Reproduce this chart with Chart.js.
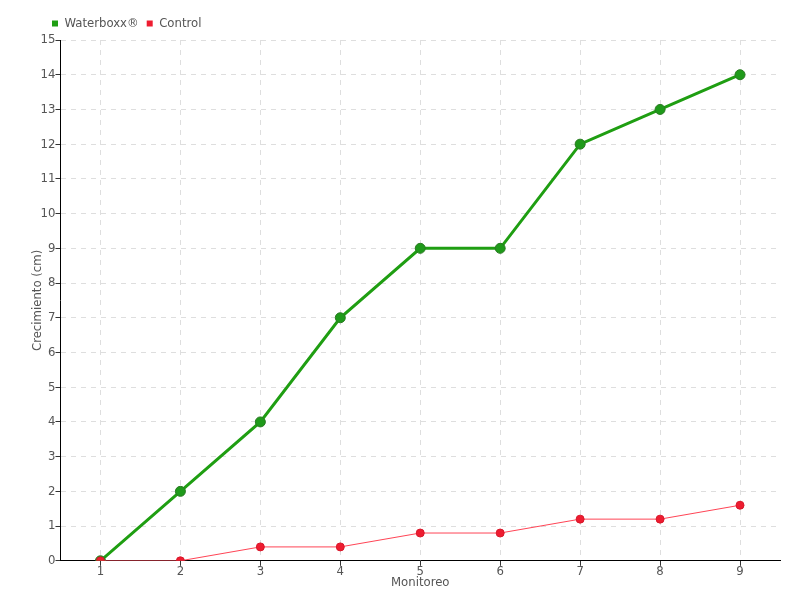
<!DOCTYPE html>
<html>
<head>
<meta charset="utf-8">
<script src="https://cdn.jsdelivr.net/npm/chart.js@4"></script>
<style>
  html, body { margin: 0; padding: 0; background: #fff; }
  #wrap { width: 800px; height: 600px; }
</style>
</head>
<body>
<div id="wrap"><canvas id="chart" width="800" height="600"></canvas></div>
<script>
// Crecimiento por monitoreo
const monitoreos = ['1','2','3','4','5','6','7','8','9'];
const waterboxx  = [0, 2, 4, 7, 9, 9, 12, 13, 14];
const control    = [0, 0, 0.4, 0.4, 0.8, 0.8, 1.2, 1.2, 1.6];

const FONT = '"DejaVu Sans Condensed", "Liberation Sans Narrow", sans-serif';
const TXT = '#555';
const FS = 13;

Chart.defaults.font.family = FONT;
Chart.defaults.color = TXT;

new Chart(document.getElementById('chart'), {
  type: 'line',
  data: {
    labels: monitoreos,
    datasets: [
      {
        label: 'Waterboxx®', data: waterboxx,
        borderColor: '#1f9e12', backgroundColor: '#1f9e12',
        borderWidth: 3, pointRadius: 5, pointHoverRadius: 5,
        pointBackgroundColor: '#1f9a1a', pointBorderColor: '#2a7a22', pointBorderWidth: 1,
        tension: 0, order: 1,
      },
      {
        label: 'Control', data: control,
        borderColor: '#ff4455', backgroundColor: '#ee1c30',
        borderWidth: 1, pointRadius: 4, pointHoverRadius: 4,
        pointBackgroundColor: '#ee1c30', pointBorderColor: '#d8182a', pointBorderWidth: 1,
        tension: 0, order: 0,
      },
    ],
  },
  options: {
    responsive: false, animation: false,
    layout: { padding: { left: 30, right: 20, top: 9, bottom: 10 } },
    plugins: {
      legend: {
        align: 'start',
        labels: {
          boxWidth: 6, boxHeight: 6, padding: 8, font: { size: FS }, color: TXT,
          sort: (a, b) => a.datasetIndex - b.datasetIndex,
          generateLabels(chart) {
            return Chart.defaults.plugins.legend.labels.generateLabels(chart)
              .map(l => ({ ...l, lineWidth: 0, fillStyle: chart.data.datasets[l.datasetIndex].backgroundColor }));
          },
        },
      },
      tooltip: { enabled: false },
    },
    scales: {
      x: {
        offset: true,
        grid: { offset: false, color: '#dedede', tickColor: '#333', tickLength: 5, tickBorderDash: [] },
        border: { color: '#000', width: 1, dash: [5, 5] },
        ticks: { font: { size: FS }, color: TXT, padding: -2 },
        title: { display: true, text: 'Monitoreo', font: { size: FS }, color: TXT, padding: { top: -3, bottom: 0 } },
      },
      y: {
        min: 0, max: 15,
        grid: { color: '#dedede', tickColor: '#333', tickLength: 5, tickBorderDash: [] },
        border: { color: '#000', width: 1, dash: [5, 5] },
        ticks: { stepSize: 1, font: { size: FS }, color: TXT, padding: 0 },
        title: { display: true, text: 'Crecimiento (cm)', font: { size: FS }, color: TXT, padding: { top: 0, bottom: -5 } },
      },
    },
  },
  plugins: [{
    id: 'legendShift',
    afterLayout(chart) { chart.legend.left += 14; },
  }],
});
</script>
</body>
</html>
